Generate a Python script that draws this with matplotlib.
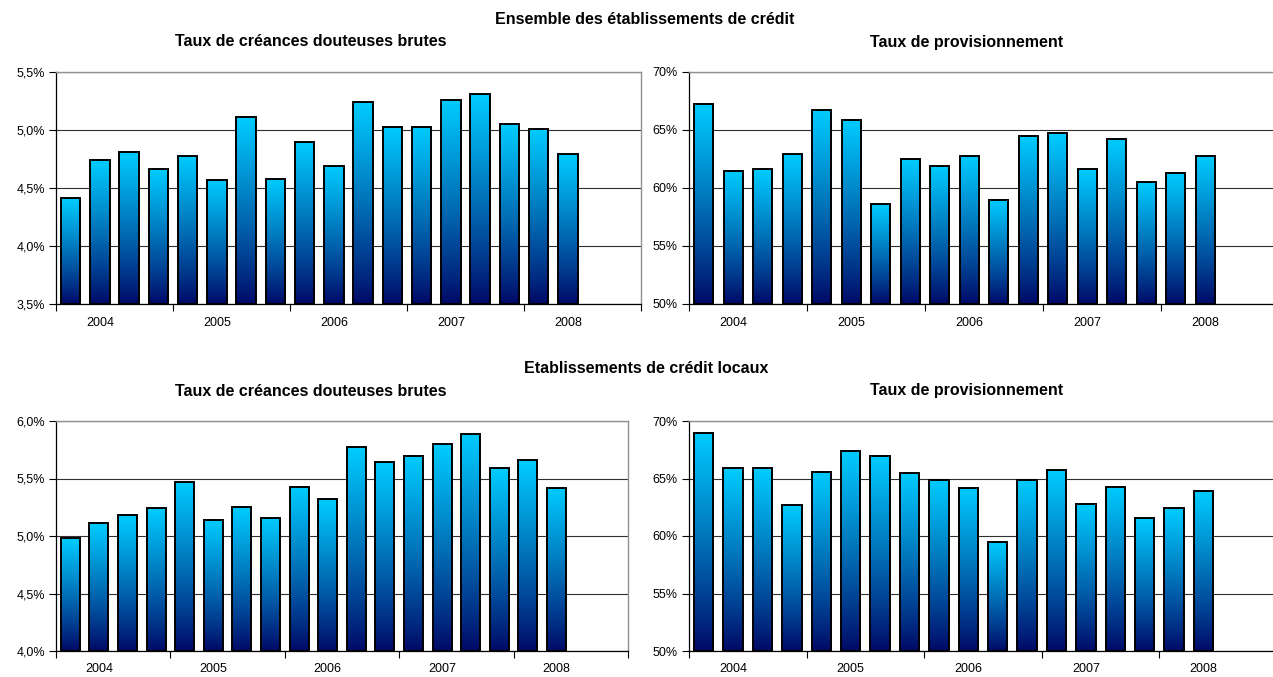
import numpy as np
import matplotlib
matplotlib.use("Agg")
import matplotlib.pyplot as plt
from matplotlib.ticker import FuncFormatter, FixedLocator, NullFormatter

plt.rcParams['font.family'] = ['Liberation Sans', 'DejaVu Sans']

# trimestres 2004 T1 -> 2008 T2, axe prévu pour 20 trimestres
annees = ['2004', '2005', '2006', '2007', '2008']
n_slots = 20

cdb_ensemble = [4.41, 4.74, 4.81, 4.66, 4.78, 4.57, 5.11, 4.58, 4.90,
                4.69, 5.24, 5.03, 5.03, 5.26, 5.31, 5.05, 5.01, 4.79]
prov_ensemble = [67.2, 61.5, 61.6, 62.9, 66.7, 65.9, 58.6, 62.5, 61.9,
                 62.8, 59.0, 64.5, 64.7, 61.6, 64.2, 60.5, 61.3, 62.8]
cdb_locaux = [4.98, 5.11, 5.18, 5.24, 5.47, 5.14, 5.25, 5.16, 5.43,
              5.32, 5.77, 5.64, 5.70, 5.80, 5.89, 5.59, 5.66, 5.42]
prov_locaux = [69.0, 65.9, 65.9, 62.7, 65.6, 67.4, 67.0, 65.5, 64.9,
               64.2, 59.5, 64.9, 65.7, 62.8, 64.3, 61.6, 62.4, 63.9]

W, H = 1273, 677
fig = plt.figure(figsize=(W / 100, H / 100), dpi=100)

# dégradé vertical des barres : cyan en haut, bleu nuit en bas
grad = np.linspace(0, 1, 256).reshape(-1, 1)
top_c = np.array([0.0, 0.80, 1.0])
bot_c = np.array([0.0, 0.03, 0.40])
t = grad ** 0.9
img = (bot_c * (1 - t)[..., None] + top_c * t[..., None])
img = img.reshape(256, 1, 3)


def panneau(rect, valeurs, ymin, ymax, pas, fmt):
    ax = fig.add_axes(rect)
    x = np.arange(len(valeurs))
    v = np.array(valeurs)
    bars = ax.bar(x, v - ymin, bottom=ymin, width=0.66, facecolor='none',
                  edgecolor='black', linewidth=1.4, zorder=3)
    for b in bars:
        im = ax.imshow(img, extent=(b.get_x(), b.get_x() + b.get_width(),
                                    b.get_y(), b.get_y() + b.get_height()),
                       origin='lower', aspect='auto', zorder=2,
                       interpolation='bilinear')
        im.set_clip_path(b)
    ax.set_xlim(-0.5, n_slots - 0.5)
    ax.set_ylim(ymin, ymax)
    ax.set_yticks(np.arange(ymin, ymax + pas / 2, pas))
    ax.yaxis.set_major_formatter(FuncFormatter(fmt))
    ax.grid(axis='y', color='#303030', linewidth=0.8, zorder=1)
    ax.set_axisbelow(True)

    # libellés d'année sous le 2e trimestre, graduations entre les années
    ax.xaxis.set_major_locator(FixedLocator([4 * i + 1 for i in range(len(annees))]))
    ax.set_xticklabels(annees)
    ax.xaxis.set_minor_locator(FixedLocator([4 * i - 0.5 for i in range(6)]))
    ax.xaxis.set_minor_formatter(NullFormatter())
    ax.tick_params(axis='x', which='major', length=0, pad=9, labelsize=9)
    ax.tick_params(axis='x', which='minor', length=5, width=0.8, direction='out')
    ax.tick_params(axis='y', length=5, width=0.8, direction='out', pad=3,
                   labelsize=9)
    for s in ('top', 'right'):
        ax.spines[s].set_color('#909090')
        ax.spines[s].set_linewidth(1.0)
    for s in ('left', 'bottom'):
        ax.spines[s].set_color('black')
        ax.spines[s].set_linewidth(0.9)
    return ax


def pct1(v, pos):
    return f"{v:.1f}".replace('.', ',') + '%'


def pct0(v, pos):
    return f"{v:.0f}%"


def r(l, t, rr, b):
    return [l / W, 1 - b / H, (rr - l) / W, (b - t) / H]


panneau(r(56, 72, 641, 304), cdb_ensemble, 3.5, 5.5, 0.5, pct1)
panneau(r(689, 72, 1279, 304), prov_ensemble, 50, 70, 5, pct0)
panneau(r(56, 421, 628, 651), cdb_locaux, 4.0, 6.0, 0.5, pct1)
panneau(r(689, 421, 1277, 651), prov_locaux, 50, 70, 5, pct0)

kw = dict(ha='center', va='center', fontweight='bold', fontsize=11.5)
fig.text(645 / W, 1 - 20 / H, 'Ensemble des établissements de crédit', **kw)
fig.text(311 / W, 1 - 42 / H, 'Taux de créances douteuses brutes', **kw)
fig.text(967 / W, 1 - 42 / H, 'Taux de provisionnement', **kw)
fig.text(646 / W, 1 - 368 / H, 'Etablissements de crédit locaux', **kw)
fig.text(311 / W, 1 - 391 / H, 'Taux de créances douteuses brutes', **kw)
fig.text(967 / W, 1 - 391 / H, 'Taux de provisionnement', **kw)

fig.savefig('out.png', dpi=100)
